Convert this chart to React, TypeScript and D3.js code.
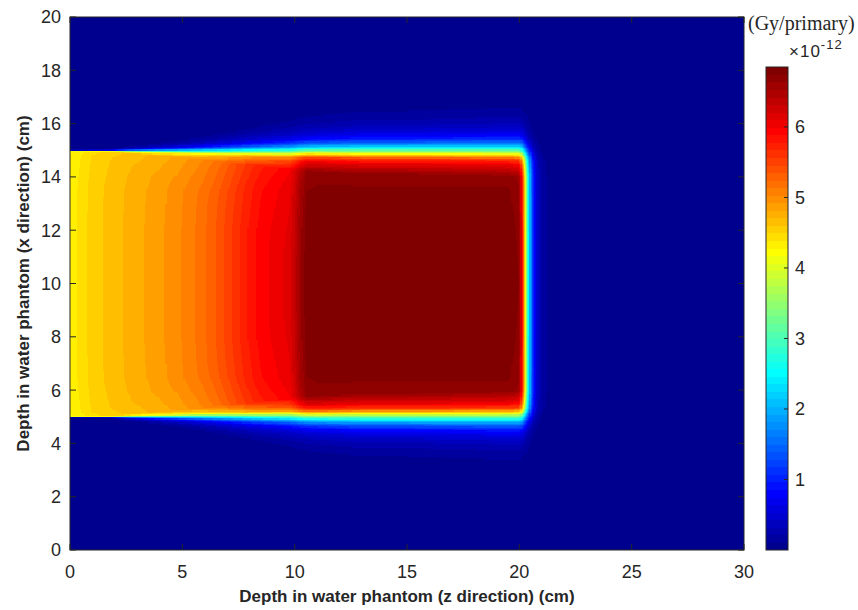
import React, { useMemo } from 'react';
import * as d3 from 'd3';

// ---------- data ----------
// Central-axis depth dose (units of 1e-12 Gy/primary) vs depth z (cm)
const depthZ = [0, 0.35, 1.0, 1.9, 2.8, 3.8, 4.8, 5.8, 6.5, 7.1, 7.8, 8.45, 9.2, 9.8, 10.2, 10.5, 11, 15, 19.5, 20.0, 20.1, 20.2, 20.3, 20.4, 20.5, 20.6, 20.8, 21.0, 21.3, 21.6, 30];
const depthDose = [4.33, 4.4, 4.55, 4.66, 4.76, 4.87, 5.0, 5.18, 5.35, 5.53, 5.75, 5.93, 6.05, 6.15, 6.55, 6.82, 6.85, 6.85, 6.85, 6.75, 6.1, 5.0, 3.8, 2.7, 1.8, 1.1, 0.45, 0.18, 0.06, 0.0, 0.0];

// Inner shoulder: distance outside the field edge (cm) -> relative dose
const shoulderE = [-3, -1.5, -1.0, -0.5, 0, 3];
const shoulderRel = [1, 0.996, 0.988, 0.977, 0.965, 0.965];
// Strength of the shoulder dip vs depth
const shoulderZ = [0, 3, 6.7, 30];
const shoulderAmp = [0.3, 0.45, 1.0, 1.0];

// Penumbra + halo at z = 15 cm: distance outside the field edge (cm) -> relative dose
const penumbraE = [-5, -0.9, -0.5, -0.3, -0.14, -0.05, 0.05, 0.15, 0.3, 0.5, 0.75, 1.0, 1.35, 1.7, 2.2, 2.7];
const penumbraRel = [1, 0.99, 0.91, 0.83, 0.66, 0.54, 0.44, 0.33, 0.22, 0.125, 0.072, 0.043, 0.019, 0.011, 0.004, 0];

// Penumbra / halo width relative to z = 15 cm
const widthZ = [0, 1.8, 5, 10.2, 13, 15, 20, 21, 30];
const widthS = [0.03, 0.05, 0.29, 0.84, 1.0, 1.0, 1.1, 1.1, 1.1];

// Field geometry (cm)
const fieldCenter = [10];
const fieldHalfWidth = [5];

const xTicks = [0, 5, 10, 15, 20, 25, 30];
const yTicks = [0, 2, 4, 6, 8, 10, 12, 14, 16, 18, 20];
const cbTicks = [1, 2, 3, 4, 5, 6];
const cMin = 0;
const cMax = 6.85;
const nLevels = 64;

// ---------- layout ----------
const W = 858, H = 610;
const PL = 70, PR = 744, PT = 17, PB = 550;
const CB_L = 766, CB_R = 788, CB_T = 67, CB_B = 550;
const FONT = "'Liberation Sans', Arial, Helvetica, sans-serif";
const TXT = '#262626';

function jet(k: number): string {
  // MATLAB jet(64), k = 1..64
  let r = 0, g = 0, b = 0;
  if (k >= 25 && k <= 40) r = (k - 24) / 16;
  else if (k >= 41 && k <= 55) r = 1;
  else if (k >= 56) r = (72 - k) / 16;
  if (k >= 9 && k <= 24) g = (k - 8) / 16;
  else if (k >= 25 && k <= 39) g = 1;
  else if (k >= 40 && k <= 55) g = (56 - k) / 16;
  if (k <= 8) b = (k + 8) / 16;
  else if (k <= 23) b = 1;
  else if (k <= 39) b = (40 - k) / 16;
  const f = (v: number) => Math.round(v * 255);
  return `rgb(${f(r)},${f(g)},${f(b)})`;
}

export default function App() {
  const xS = d3.scaleLinear().domain([0, 30]).range([PL, PR]);
  const yS = d3.scaleLinear().domain([0, 20]).range([PB, PT]);
  const cS = d3.scaleLinear().domain([cMin, cMax]).range([CB_B, CB_T]);

  const cells = useMemo(() => {
    const dd = d3.scaleLinear().domain(depthZ).range(depthDose).clamp(true);
    const sh = d3.scaleLinear().domain(shoulderE).range(shoulderRel).clamp(true);
    const sa = d3.scaleLinear().domain(shoulderZ).range(shoulderAmp).clamp(true);
    const pen = d3.scaleLinear().domain(penumbraE).range(penumbraRel).clamp(true);
    const ws = d3.scaleLinear().domain(widthZ).range(widthS).clamp(true);
    const level = (v: number) => Math.max(1, Math.min(nLevels, Math.floor(((v - cMin) / (cMax - cMin)) * nLevels) + 1));
    const step = 0.05;
    const nz = Math.round(30 / step);
    const nx = Math.round(20 / step);
    const out: JSX.Element[] = [];
    for (let j = 0; j < nx; j++) {
      const xc = (j + 0.5) * step;
      const y0 = yS((j + 1) * step);
      const y1 = yS(j * step);
      let runStart = 0;
      let runLevel = -1;
      const flush = (endIdx: number) => {
        if (runLevel > 1) {
          const x0 = xS(runStart * step);
          const x1 = xS(endIdx * step);
          out.push(
            <rect key={`${j}-${runStart}`} x={x0} y={y0} width={x1 - x0 + 0.4} height={y1 - y0 + 0.4} fill={jet(runLevel)} />
          );
        }
      };
      const e = Math.abs(xc - fieldCenter[0]) - fieldHalfWidth[0];
      const dip = 1 - sh(e);
      for (let i = 0; i < nz; i++) {
        const zc = (i + 0.5) * step;
        const v = dd(zc) * (1 - dip * sa(zc)) * pen(e / ws(zc));
        const k = level(v);
        if (k !== runLevel) {
          if (runLevel !== -1) flush(i);
          runStart = i;
          runLevel = k;
        }
      }
      flush(nz);
    }
    return out;
  }, []);

  const cbBands = d3.range(1, nLevels + 1).map((k) => {
    const v0 = cMin + ((k - 1) / nLevels) * (cMax - cMin);
    const v1 = cMin + (k / nLevels) * (cMax - cMin);
    return (
      <rect key={k} x={CB_L} y={cS(v1)} width={CB_R - CB_L} height={cS(v0) - cS(v1) + 0.4} fill={jet(k)} />
    );
  });

  return (
    <svg width={W} height={H} style={{ position: 'absolute', left: 0, top: 0, background: '#fff' }} xmlns="http://www.w3.org/2000/svg">
      <rect x={0} y={0} width={W} height={H} fill="#fff" />
      <clipPath id="plotclip">
        <rect x={PL} y={PT} width={PR - PL} height={PB - PT} />
      </clipPath>
      <rect x={PL} y={PT} width={PR - PL} height={PB - PT} fill={jet(1)} />
      <g clipPath="url(#plotclip)" shapeRendering="crispEdges">{cells}</g>

      {/* axes box */}
      <rect x={PL} y={PT} width={PR - PL} height={PB - PT} fill="none" stroke={TXT} strokeWidth={1} />
      {xTicks.map((t) => (
        <g key={`xt${t}`}>
          <line x1={xS(t)} x2={xS(t)} y1={PB} y2={PB - 6} stroke={TXT} />
          <line x1={xS(t)} x2={xS(t)} y1={PT} y2={PT + 6} stroke={TXT} />
          <text x={xS(t)} y={578} textAnchor="middle" fontFamily={FONT} fontSize={18} fill={TXT}>{t}</text>
        </g>
      ))}
      {yTicks.map((t) => (
        <g key={`yt${t}`}>
          <line x1={PL} x2={PL + 6} y1={yS(t)} y2={yS(t)} stroke={TXT} />
          <line x1={PR} x2={PR - 6} y1={yS(t)} y2={yS(t)} stroke={TXT} />
          <text x={61} y={yS(t)} dy="0.36em" textAnchor="end" fontFamily={FONT} fontSize={18} fill={TXT}>{t}</text>
        </g>
      ))}
      <text x={(PL + PR) / 2} y={602} textAnchor="middle" fontFamily={FONT} fontSize={17} fontWeight="bold" fill={TXT}>
        Depth in water phantom (z direction) (cm)
      </text>
      <text transform={`translate(29,${(PT + PB) / 2}) rotate(-90)`} textAnchor="middle" fontFamily={FONT} fontSize={17} fontWeight="bold" fill={TXT}>
        Depth in water phantom (x direction) (cm)
      </text>

      {/* colorbar */}
      <g shapeRendering="crispEdges">{cbBands}</g>
      <rect x={CB_L} y={CB_T} width={CB_R - CB_L} height={CB_B - CB_T} fill="none" stroke={TXT} strokeWidth={1} />
      {cbTicks.map((t) => (
        <g key={`cb${t}`}>
          <line x1={CB_R} x2={CB_R - 4} y1={cS(t)} y2={cS(t)} stroke={TXT} />
          <text x={795} y={cS(t)} dy="0.36em" fontFamily={FONT} fontSize={18} fill={TXT}>{t}</text>
        </g>
      ))}
      <text x={748} y={30} fontFamily="'Liberation Serif', 'Times New Roman', serif" fontSize={20} fill={TXT}>(Gy/primary)</text>
      <text x={789} y={57} fontFamily={FONT} fontSize={17} fill={TXT} letterSpacing={1}>
        ×10<tspan fontSize={13} dy={-8}>-12</tspan>
      </text>
    </svg>
  );
}
